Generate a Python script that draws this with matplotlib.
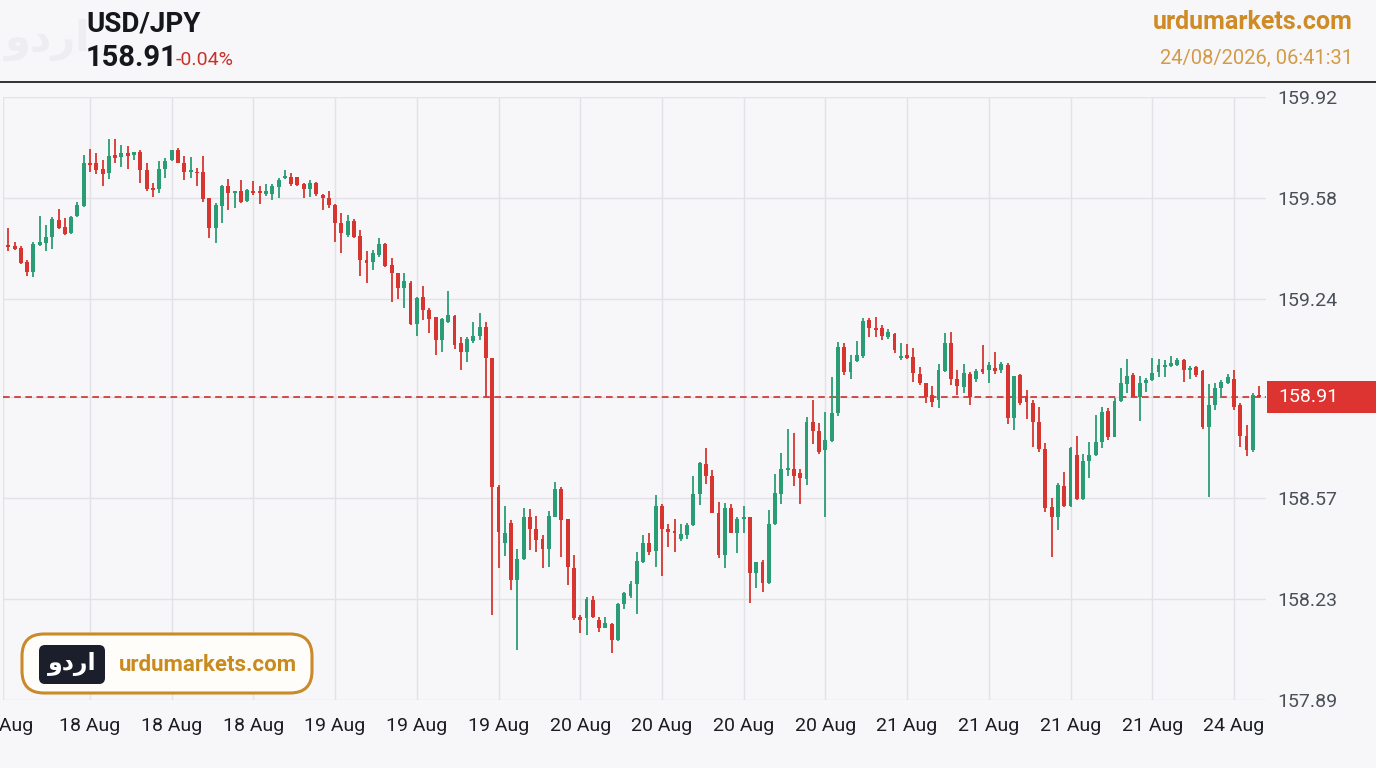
import numpy as np
import matplotlib.pyplot as plt
from matplotlib.patches import FancyBboxPatch, Rectangle

plt.rcParams['font.family'] = ['Roboto', 'DejaVu Sans']

# USD/JPY candles (oldest first)
opens = [
    159.422, 159.417, 159.413, 159.366, 159.332, 159.422, 159.430, 159.450, 159.506, 159.484,
    159.461, 159.518, 159.553, 159.699, 159.697, 159.677, 159.663, 159.725, 159.717, 159.733,
    159.725, 159.736, 159.675, 159.615, 159.610, 159.677, 159.708, 159.740, 159.699, 159.667,
    159.669, 159.666, 159.579, 159.478, 159.553, 159.619, 159.596, 159.602, 159.571, 159.604,
    159.602, 159.594, 159.594, 159.616, 159.647, 159.652, 159.650, 159.626, 159.610, 159.632,
    159.590, 159.579, 159.557, 159.497, 159.456, 159.503, 159.452, 159.372, 159.366, 159.388,
    159.426, 159.355, 159.329, 159.276, 159.295, 159.156, 159.246, 159.203, 159.179, 159.102,
    159.164, 159.183, 159.093, 159.060, 159.100, 159.114, 159.145, 159.040, 158.606, 158.419,
    158.487, 158.294, 158.363, 158.507, 158.464, 158.431, 158.400, 158.507, 158.602, 158.498,
    158.336, 158.170, 158.165, 158.226, 158.161, 158.131, 158.146, 158.092, 158.213, 158.240,
    158.280, 158.356, 158.419, 158.393, 158.543, 158.464, 158.460, 158.431, 158.445, 158.479,
    158.583, 158.684, 158.644, 158.520, 158.378, 158.535, 158.453, 158.501, 158.505, 158.316,
    158.356, 158.283, 158.482, 158.583, 158.664, 158.666, 158.653, 158.633, 158.827, 158.797,
    158.732, 158.763, 158.857, 159.077, 158.995, 159.032, 159.048, 159.169, 159.144, 159.141,
    159.111, 159.122, 159.040, 159.051, 159.046, 158.987, 158.956, 158.917, 158.900, 158.999,
    159.093, 158.969, 158.945, 158.987, 158.969, 159.003, 159.001, 159.006, 159.001, 159.018,
    158.838, 158.984, 158.913, 158.891, 158.827, 158.734, 158.541, 158.505, 158.610, 158.543,
    158.715, 158.565, 158.696, 158.715, 158.760, 158.864, 158.776, 158.898, 158.954, 158.984,
    158.911, 158.958, 158.967, 158.995, 159.012, 159.014, 159.018, 159.034, 159.001, 159.012,
    158.999, 158.808, 158.883, 158.939, 158.958, 158.969, 158.883, 158.779, 158.732, 158.913,
]
highs = [
    159.478, 159.433, 159.417, 159.372, 159.433, 159.521, 159.489, 159.515, 159.542, 159.512,
    159.518, 159.568, 159.725, 159.744, 159.731, 159.708, 159.778, 159.778, 159.759, 159.755,
    159.736, 159.742, 159.697, 159.632, 159.706, 159.714, 159.742, 159.747, 159.722, 159.717,
    159.680, 159.720, 159.579, 159.562, 159.624, 159.643, 159.605, 159.639, 159.610, 159.638,
    159.619, 159.628, 159.628, 159.647, 159.675, 159.663, 159.652, 159.630, 159.641, 159.635,
    159.594, 159.605, 159.560, 159.531, 159.523, 159.509, 159.473, 159.400, 159.405, 159.445,
    159.430, 159.377, 159.329, 159.327, 159.299, 159.248, 159.284, 159.209, 159.181, 159.175,
    159.268, 159.186, 159.111, 159.111, 159.164, 159.192, 159.161, 159.040, 158.614, 158.543,
    158.496, 158.400, 158.535, 158.532, 158.509, 158.445, 158.527, 158.625, 158.606, 158.501,
    158.378, 158.176, 158.238, 158.240, 158.170, 158.170, 158.150, 158.215, 158.254, 158.292,
    158.389, 158.445, 158.451, 158.580, 158.550, 158.482, 158.501, 158.482, 158.485, 158.644,
    158.692, 158.737, 158.664, 158.558, 158.552, 158.550, 158.507, 158.543, 158.507, 158.356,
    158.361, 158.529, 158.651, 158.720, 158.804, 158.788, 158.666, 158.844, 158.900, 158.821,
    158.861, 158.976, 159.096, 159.093, 159.051, 159.100, 159.175, 159.175, 159.180, 159.152,
    159.138, 159.124, 159.091, 159.088, 159.074, 159.012, 158.958, 158.947, 159.021, 159.127,
    159.130, 159.001, 159.021, 158.995, 159.003, 159.085, 159.029, 159.063, 159.029, 159.023,
    158.981, 158.987, 158.934, 158.900, 158.875, 158.754, 158.569, 158.622, 158.659, 158.743,
    158.779, 158.718, 158.760, 158.849, 158.875, 158.872, 158.905, 159.006, 159.037, 158.992,
    158.981, 158.973, 159.043, 159.037, 159.035, 159.048, 159.043, 159.037, 159.014, 159.014,
    159.001, 158.954, 158.958, 158.967, 158.987, 159.001, 158.889, 158.816, 158.922, 158.947,
]
lows = [
    159.400, 159.405, 159.358, 159.316, 159.313, 159.419, 159.400, 159.408, 159.475, 159.456,
    159.459, 159.515, 159.551, 159.669, 159.661, 159.621, 159.643, 159.699, 159.686, 159.677,
    159.708, 159.632, 159.605, 159.585, 159.598, 159.647, 159.706, 159.697, 159.639, 159.647,
    159.619, 159.565, 159.445, 159.430, 159.495, 159.538, 159.546, 159.562, 159.568, 159.590,
    159.560, 159.587, 159.574, 159.579, 159.643, 159.619, 159.621, 159.579, 159.585, 159.587,
    159.538, 159.546, 159.433, 159.394, 159.450, 159.445, 159.316, 159.293, 159.336, 159.383,
    159.349, 159.231, 159.239, 159.209, 159.153, 159.116, 159.170, 159.127, 159.052, 159.060,
    159.158, 159.071, 159.001, 159.029, 159.091, 159.102, 158.911, 158.176, 158.333, 158.375,
    158.260, 158.060, 158.361, 158.395, 158.389, 158.333, 158.339, 158.505, 158.370, 158.277,
    158.159, 158.116, 158.109, 158.165, 158.120, 158.131, 158.047, 158.090, 158.195, 158.232,
    158.179, 158.352, 158.378, 158.339, 158.307, 158.404, 158.389, 158.426, 158.431, 158.476,
    158.546, 158.617, 158.518, 158.367, 158.333, 158.451, 158.386, 158.453, 158.215, 158.266,
    158.254, 158.280, 158.479, 158.550, 158.644, 158.610, 158.550, 158.614, 158.752, 158.718,
    158.507, 158.760, 158.846, 158.984, 158.969, 159.029, 159.040, 159.111, 159.111, 159.102,
    159.104, 159.057, 159.035, 159.037, 158.962, 158.950, 158.889, 158.877, 158.872, 158.995,
    158.950, 158.917, 158.925, 158.883, 158.962, 158.987, 158.956, 158.987, 158.992, 158.819,
    158.799, 158.883, 158.835, 158.743, 158.726, 158.524, 158.370, 158.462, 158.541, 158.541,
    158.563, 158.563, 158.636, 158.711, 158.737, 158.765, 158.774, 158.894, 158.922, 158.909,
    158.830, 158.928, 158.965, 158.976, 158.978, 159.012, 159.014, 158.962, 158.969, 158.978,
    158.804, 158.572, 158.866, 158.911, 158.954, 158.866, 158.743, 158.711, 158.726, 158.909,
]
closes = [
    159.414, 159.408, 159.360, 159.332, 159.426, 159.433, 159.450, 159.509, 159.478, 159.459,
    159.515, 159.557, 159.697, 159.692, 159.675, 159.661, 159.720, 159.714, 159.733, 159.720,
    159.734, 159.675, 159.610, 159.607, 159.677, 159.706, 159.740, 159.699, 159.666, 159.672,
    159.663, 159.576, 159.478, 159.557, 159.621, 159.596, 159.602, 159.568, 159.607, 159.596,
    159.596, 159.604, 159.619, 159.641, 159.654, 159.628, 159.624, 159.610, 159.632, 159.594,
    159.579, 159.557, 159.495, 159.461, 159.501, 159.450, 159.372, 159.360, 159.394, 159.426,
    159.351, 159.327, 159.276, 159.299, 159.156, 159.243, 159.203, 159.172, 159.102, 159.172,
    159.186, 159.085, 159.060, 159.105, 159.116, 159.145, 159.041, 158.606, 158.457, 158.453,
    158.294, 158.363, 158.505, 158.464, 158.428, 158.397, 158.509, 158.602, 158.496, 158.339,
    158.165, 158.159, 158.229, 158.170, 158.131, 158.150, 158.092, 158.213, 158.249, 158.280,
    158.359, 158.419, 158.389, 158.543, 158.464, 158.457, 158.451, 158.449, 158.479, 158.583,
    158.687, 158.644, 158.518, 158.378, 158.535, 158.453, 158.501, 158.507, 158.316, 158.356,
    158.285, 158.482, 158.588, 158.666, 158.670, 158.644, 158.636, 158.827, 158.797, 158.726,
    158.765, 158.857, 159.077, 158.995, 159.029, 159.051, 159.167, 159.141, 159.135, 159.115,
    159.130, 159.068, 159.048, 159.040, 158.990, 158.958, 158.911, 158.894, 159.001, 159.093,
    158.969, 158.947, 158.992, 158.909, 158.999, 158.995, 159.018, 158.999, 159.021, 158.838,
    158.981, 158.889, 158.894, 158.827, 158.734, 158.535, 158.505, 158.614, 158.543, 158.737,
    158.565, 158.696, 158.715, 158.760, 158.861, 158.776, 158.898, 158.956, 158.981, 158.911,
    158.956, 158.967, 158.992, 159.018, 159.018, 159.025, 159.034, 159.001, 159.006, 158.984,
    158.808, 158.883, 158.942, 158.962, 158.976, 158.877, 158.779, 158.732, 158.917, 158.910,
]

price_ticks = [159.92, 159.58, 159.24, 158.91, 158.57, 158.23, 157.89]
date_labels = ['17 Aug', '18 Aug', '18 Aug', '18 Aug', '19 Aug', '19 Aug', '19 Aug',
               '20 Aug', '20 Aug', '20 Aug', '20 Aug', '21 Aug', '21 Aug', '21 Aug',
               '21 Aug', '24 Aug']
last_price = 158.91
change_pct = -0.04
symbol = 'USD/JPY'
site = 'urdumarkets.com'
stamp = '24/08/2026, 06:41:31'
logo = 'اردو'

GREEN = '#2a9d74'
RED = '#d6362f'
BG = '#f7f7f9'
GOLD = '#cf8b25'
W, H = 1376, 768

fig = plt.figure(figsize=(W / 100, H / 100), dpi=100, facecolor=BG)

# main price panel (pixel box: x 3..1266, y 97..700)
ax = fig.add_axes([3 / W, (H - 700) / H, 1263 / W, 603 / H])
ax.set_facecolor(BG)
o, h, l, c = map(np.array, (opens, highs, lows, closes))
x = np.arange(len(o))
cols = np.where(c >= o, GREEN, RED)

ax.axhline(last_price, color='#c9302c', lw=1.2, ls=(0, (4, 2.7)), zorder=2)
ax.vlines(x, l, h, colors=cols, lw=1.3, zorder=3)
ax.bar(x, np.maximum(np.abs(c - o), 0.006), bottom=np.minimum(o, c), width=0.62,
       color=cols, lw=0, zorder=4)

ax.set_ylim(price_ticks[-1], price_ticks[0])
ax.set_xlim(-0.84, 200.1)
ax.set_yticks(price_ticks)
ax.set_yticklabels([f'{p:.2f}' if p != last_price else '' for p in price_ticks])
# first day label sits on the left edge and is half cut off, as on the source chart
ax.set_xticks([-0.84] + list(range(13, 196, 13)))
ax.set_xticklabels(date_labels)
ax.yaxis.tick_right()
ax.tick_params(axis='y', length=0, pad=8, labelsize=14, labelcolor='#4b5058')
ax.tick_params(axis='x', length=0, pad=12, labelsize=14, labelcolor='#1b1d22')
ax.grid(True, color='#e2e2e8', lw=1.0)
ax.set_axisbelow(True)
for s in ax.spines.values():
    s.set_visible(False)

# overlay in pixel coordinates for header, badge and price tag
ov = fig.add_axes([0, 0, 1, 1])
ov.set_xlim(0, W)
ov.set_ylim(H, 0)
ov.axis('off')
ov.patch.set_alpha(0)

ov.plot([0, W], [82, 82], color='#222222', lw=1.3)
# faint logo watermark (string reversed because matplotlib lays glyphs out left to right)
ov.text(47, 40, logo[::-1], fontsize=30, fontweight='bold', color='#eeeef2',
        ha='center', va='center', family='DejaVu Sans')
ov.text(86, 24, symbol, fontsize=20, fontweight='bold', color='#15171c', va='center')
ov.text(86, 58, f'{last_price:.2f}', fontsize=21, fontweight='bold', color='#15171c', va='center')
ov.text(176, 60, f'{change_pct:.2f}%', fontsize=14, color='#c8322b', va='center')
ov.text(1353, 22, site, fontsize=18, fontweight='bold', color=GOLD, ha='right', va='center')
ov.text(1353, 58, stamp, fontsize=14.5, color='#d39b48', ha='right', va='center')

# current price tag
ov.add_patch(Rectangle((1267, 381), 109, 32, color='#dd3431', lw=0))
ov.text(1278, 397, f'{last_price:.2f}', fontsize=14, color='white', va='center')

# watermark badge bottom-left
ov.add_patch(FancyBboxPatch((22, 634), 290, 59, boxstyle='round,pad=0,rounding_size=22',
                            fc='#fffdf9', ec='#c98a2a', lw=2.2))
ov.add_patch(FancyBboxPatch((39, 645), 66, 39, boxstyle='round,pad=0,rounding_size=6',
                            fc='#1b1f2b', ec='none'))
ov.text(72, 664, logo[::-1], fontsize=17, fontweight='bold', color='white',
        ha='center', va='center', family='DejaVu Sans')
ov.text(119, 665, site, fontsize=16, fontweight='bold', color='#c98a1e', va='center')

fig.savefig('out.png', dpi=100, facecolor=BG)
